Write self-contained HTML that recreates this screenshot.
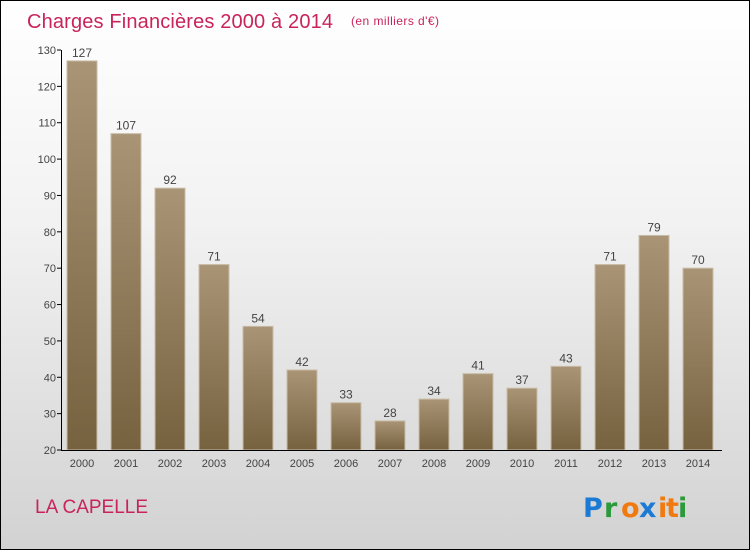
<!DOCTYPE html>
<html><head><meta charset="utf-8"><style>
body{margin:0}
#c{position:relative;width:748px;height:548px;border:1px solid #000;background:linear-gradient(#fff 0%,#f2f2f2 40%,#d2d2d2 100%);overflow:hidden;font-family:"Liberation Sans",sans-serif}
</style></head><body>
<div id="c">
<svg id="s" width="748" height="548" style="position:absolute;left:0;top:0">
<defs><linearGradient id="g" x1="0" y1="0" x2="0" y2="1"><stop offset="0" stop-color="#a99576"/><stop offset="1" stop-color="#76623f"/></linearGradient></defs>
<text x="26" y="27" font-size="20" fill="#c8245a" textLength="306">Charges Financières 2000 à 2014</text>
<text x="350" y="24" font-size="12" fill="#c8245a" textLength="88">(en milliers d'€)</text>
<text x="34" y="512" font-size="19" fill="#c8245a">LA CAPELLE</text>
<g font-size="27" font-weight="bold" font-family="'DejaVu Sans',sans-serif">
<text x="582" y="516" fill="#1a7ad4">P</text><text x="603" y="516" fill="#2a9a3a">r</text><text x="620" y="516" fill="#f07a10">o</text><text x="638" y="516" fill="#1a7ad4">x</text><text x="657" y="516" fill="#f07a10">i</text><text x="665" y="516" fill="#f07a10">t</text><text x="677" y="516" fill="#2a9a3a">i</text>
</g>
<g id="plot"></g>
</svg>
</div>
<script>
const years=["2000","2001","2002","2003","2004","2005","2006","2007","2008","2009","2010","2011","2012","2013","2014"];
const values=[127,107,92,71,54,42,33,28,34,41,37,43,71,79,70];
const yTicks=[20,30,40,50,60,70,80,90,100,110,120,130];
const NS="http://www.w3.org/2000/svg";
const g=document.getElementById('plot');
const y=v=>449-(v-20)*400/110;
const x=i=>81+i*44;
function el(t,a,txt){const e=document.createElementNS(NS,t);for(const k in a)e.setAttribute(k,a[k]);if(txt!==undefined)e.textContent=txt;g.appendChild(e);return e;}
yTicks.forEach(t=>{
const tl=el('line',{x1:56,x2:60,y1:y(t),y2:y(t),stroke:'#000'});


const lb=el('text',{x:55,y:y(t)+4,'font-size':11,'text-anchor':'end',fill:'#444'},t);


});
values.forEach((v,i)=>{
const r=el('rect',{x:x(i)-15,y:y(v),width:30,height:449-y(v),fill:'url(#g)',stroke:'#c9bca6','stroke-width':1});


const t=el('text',{x:x(i),y:y(v)-4,'font-size':12,'text-anchor':'middle',fill:'#444'},v);


const xl=el('text',{x:x(i),y:466,'font-size':11,'text-anchor':'middle',fill:'#444'},years[i]);


});
const ya=el('line',{x1:60.5,x2:60.5,y1:y(130),y2:449.5,stroke:'#000'});


const xa=el('line',{x1:60,x2:721,y1:449.5,y2:449.5,stroke:'#000'});


</script>
</body></html>
